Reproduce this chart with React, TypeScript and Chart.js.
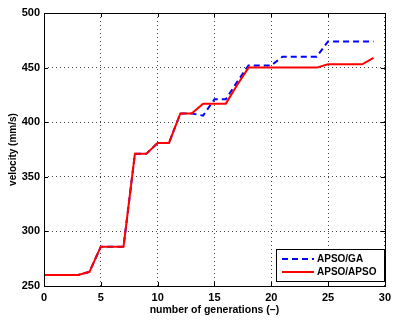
import React, { useEffect, useRef } from "react";
import { Chart, registerables } from "chart.js";

Chart.register(...registerables);

const generations = [0, 1, 2, 3, 4, 5, 6, 7, 8, 9, 10, 11, 12, 13, 14, 15, 16, 17, 18, 19, 20, 21, 22, 23, 24, 25, 26, 27, 28, 29];
const apsoGA = [260, 260, 260, 260, 263, 286, 286, 286, 371, 371, 381, 381, 408, 408, 406, 421, 421, 437, 452, 452, 452, 460, 460, 460, 460, 474, 474, 474, 474, 474];
const apsoAPSO = [260, 260, 260, 260, 263, 286, 286, 286, 371, 371, 381, 381, 408, 408, 417, 417, 417, 434, 450, 450, 450, 450, 450, 450, 450, 453, 453, 453, 453, 459];
const seriesNames = ["APSO/GA", "APSO/APSO"];
const xTitle = "number of generations (\u2013)";
const yTitle = "velocity (mm/s)";

const FONT = "'Liberation Sans', Arial, Helvetica, sans-serif";

const framePlugin = {
  id: "frame",
  afterDraw(chart: any) {
    const { ctx, chartArea } = chart;
    const { left, right, top, bottom } = chartArea;
    const xs = chart.scales.x;
    const ys = chart.scales.y;
    ctx.save();
    ctx.strokeStyle = "#000";
    ctx.lineWidth = 1;
    const tl = 4;
    ctx.beginPath();
    for (let v = 5; v < 30; v += 5) {
      const px = Math.round(xs.getPixelForValue(v)) + 0.5;
      ctx.moveTo(px, bottom);
      ctx.lineTo(px, bottom - tl);
      ctx.moveTo(px, top);
      ctx.lineTo(px, top + tl);
    }
    for (let v = 300; v < 500; v += 50) {
      const py = Math.round(ys.getPixelForValue(v)) + 0.5;
      ctx.moveTo(left, py);
      ctx.lineTo(left + tl, py);
      ctx.moveTo(right, py);
      ctx.lineTo(right - tl, py);
    }
    ctx.stroke();
    ctx.strokeRect(Math.round(left) + 0.5, Math.round(top) + 0.5, Math.round(right - left), Math.round(bottom - top));

    const bx = 276, by = 249, bw = 108, bh = 32;
    ctx.fillStyle = "#fff";
    ctx.fillRect(bx, by, bw, bh);
    ctx.strokeRect(bx + 0.5, by + 0.5, bw, bh);
    const rows = [
      { y: 259, color: "#0000ff", dash: [6, 4] },
      { y: 272, color: "#ff0000", dash: [] as number[] },
    ];
    rows.forEach((r, i) => {
      ctx.beginPath();
      ctx.setLineDash(r.dash);
      ctx.strokeStyle = r.color;
      ctx.lineWidth = 2;
      ctx.moveTo(282, r.y);
      ctx.lineTo(314, r.y);
      ctx.stroke();
      ctx.setLineDash([]);
      ctx.fillStyle = "#000";
      ctx.font = "bold 10px " + FONT;
      ctx.textBaseline = "middle";
      ctx.textAlign = "left";
      ctx.fillText(seriesNames[i], 317, r.y);
    });
    ctx.restore();
  },
};

export default function App() {
  const ref = useRef<HTMLCanvasElement | null>(null);
  useEffect(() => {
    if (!ref.current) return;
    const chart = new Chart(ref.current, {
      type: "line",
      data: {
        datasets: [
          {
            label: seriesNames[0],
            data: generations.map((g, i) => ({ x: g, y: apsoGA[i] })),
            borderColor: "#0000ff",
            borderWidth: 2,
            borderDash: [6, 4],
            pointRadius: 0,
            tension: 0,
            fill: false,
            order: 2,
          },
          {
            label: seriesNames[1],
            data: generations.map((g, i) => ({ x: g, y: apsoAPSO[i] })),
            borderColor: "#ff0000",
            borderWidth: 2,
            pointRadius: 0,
            tension: 0,
            fill: false,
            order: 1,
          },
        ],
      },
      options: {
        animation: false,
        responsive: false,
        maintainAspectRatio: false,
        layout: { padding: { top: 13, right: 4, left: 0, bottom: 0 } },
        plugins: { legend: { display: false }, tooltip: { enabled: false } },
        scales: {
          x: {
            type: "linear",
            min: 0,
            max: 30,
            ticks: { stepSize: 5, color: "#000", padding: 5, font: { family: FONT, size: 11, weight: "bold" } },
            grid: { color: "#444", drawTicks: false, lineWidth: 1 },
            border: { display: false, dash: [1, 3] } as any,
            title: { display: true, text: xTitle, color: "#000", font: { family: FONT, size: 10.5, weight: "bold" }, padding: { top: 0, bottom: 4 } },
            afterFit: (s: any) => { s.height = 34; },
          },
          y: {
            type: "linear",
            min: 250,
            max: 500,
            ticks: { stepSize: 50, color: "#000", padding: 4, font: { family: FONT, size: 11, weight: "bold" } },
            grid: { color: "#444", drawTicks: false, lineWidth: 1 },
            border: { display: false, dash: [1, 3] } as any,
            title: { display: true, text: yTitle, color: "#000", font: { family: FONT, size: 10, weight: "bold" }, padding: { top: 7, bottom: 0 } },
            afterFit: (s: any) => { s.width = 44; },
          },
        },
      } as any,
      plugins: [framePlugin],
    });
    return () => chart.destroy();
  }, []);
  return (
    <div style={{ position: "fixed", left: 0, top: 0, width: 396, height: 320, background: "#fff" }}>
      <canvas ref={ref} width={396} height={320} style={{ width: 396, height: 320 }} />
    </div>
  );
}
